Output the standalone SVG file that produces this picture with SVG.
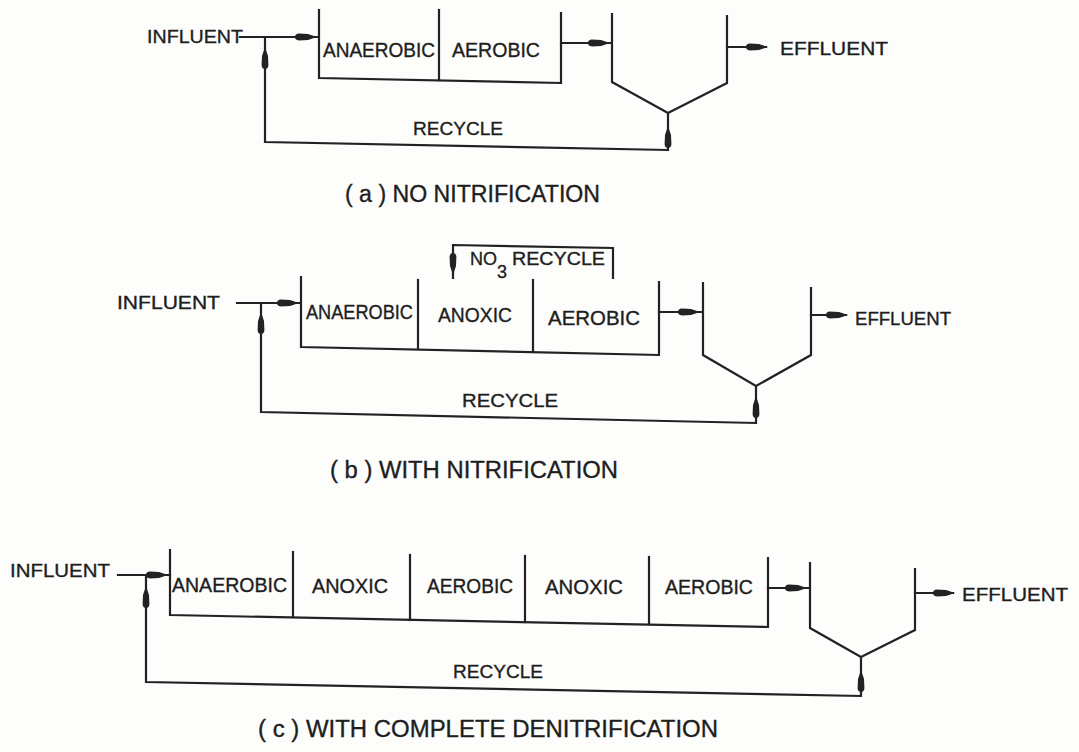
<svg xmlns="http://www.w3.org/2000/svg" xmlns:xlink="http://www.w3.org/1999/xlink" width="1079" height="752" viewBox="0 0 1079 752">
<style>
.ln{fill:none;stroke:#222;stroke-width:2.2;stroke-linejoin:miter;stroke-linecap:square}
.t{font-family:"Liberation Sans",Arial,sans-serif;fill:#1e1e1e;stroke:#1e1e1e;stroke-width:0.35}
.lbl{font-size:20px}
.io{font-size:19px}
.cap{font-size:23px}
.ah{fill:#222}
</style>
<defs>
<path id="ah" d="M0,0 L-9,-3 L-18,-3.4 Q-22,-3.2 -22,0 Q-22,3.2 -18,3.4 L-9,3 Z"/>
</defs>
<rect width="1079" height="752" fill="#fdfdfb"/>

<!-- ===== (a) ===== -->
<g id="a-influent"><text class="t io" x="147" y="43" textLength="96" lengthAdjust="spacingAndGlyphs">INFLUENT</text></g>
<g id="a-tank">
<polyline class="ln" points="319,10 319,78 561,83 561,13"/>
<line class="ln" x1="439" y1="10" x2="439" y2="80"/>
<text class="t lbl" x="323" y="57" textLength="112" lengthAdjust="spacingAndGlyphs">ANAEROBIC</text>
<text class="t lbl" x="452" y="57" textLength="88" lengthAdjust="spacingAndGlyphs">AEROBIC</text>
</g>
<g id="a-clarifier"><polyline class="ln" points="612,14 612,82 668,113 727,83 727,16"/></g>
<g id="a-effluent"><text class="t io" x="780" y="55" textLength="108" lengthAdjust="spacingAndGlyphs">EFFLUENT</text></g>
<g id="a-recycle-label"><text class="t io" x="413" y="135" textLength="90" lengthAdjust="spacingAndGlyphs">RECYCLE</text></g>
<g id="a-caption"><text class="t cap" x="345" y="202" textLength="255" lengthAdjust="spacingAndGlyphs">( a ) NO NITRIFICATION</text></g>

<!-- ===== (b) ===== -->
<g id="b-influent"><text class="t io" x="117" y="309" textLength="103" lengthAdjust="spacingAndGlyphs">INFLUENT</text></g>
<g id="b-tank">
<polyline class="ln" points="301,277 301,347 659,355 659,282"/>
<line class="ln" x1="418" y1="280" x2="418" y2="348"/>
<line class="ln" x1="533" y1="280" x2="533" y2="352"/>
<text class="t lbl" x="306" y="319" textLength="107" lengthAdjust="spacingAndGlyphs">ANAEROBIC</text>
<text class="t lbl" x="438" y="322" textLength="74" lengthAdjust="spacingAndGlyphs">ANOXIC</text>
<text class="t lbl" x="548" y="325" textLength="92" lengthAdjust="spacingAndGlyphs">AEROBIC</text>
</g>
<g id="b-no3-label">
<text class="t" font-size="18" x="470" y="265" textLength="27" lengthAdjust="spacingAndGlyphs">NO</text>
<text class="t" font-size="18" x="497" y="278">3</text>
<text class="t" font-size="18" x="512" y="265" textLength="93" lengthAdjust="spacingAndGlyphs">RECYCLE</text>
</g>
<g id="b-clarifier"><polyline class="ln" points="703,283 703,355 756,386 811,355 811,288"/></g>
<g id="b-effluent"><text class="t" font-size="18" x="855" y="325" textLength="96" lengthAdjust="spacingAndGlyphs">EFFLUENT</text></g>
<g id="b-recycle-label"><text class="t io" x="462" y="407" textLength="96" lengthAdjust="spacingAndGlyphs">RECYCLE</text></g>
<g id="b-caption"><text class="t cap" x="330" y="478" textLength="288" lengthAdjust="spacingAndGlyphs">( b ) WITH NITRIFICATION</text></g>

<!-- ===== (c) ===== -->
<g id="c-influent"><text class="t io" x="10" y="577" textLength="100" lengthAdjust="spacingAndGlyphs">INFLUENT</text></g>
<g id="c-tank">
<polyline class="ln" points="170,550 170,615 768,627 768,558"/>
<line class="ln" x1="293" y1="552" x2="293" y2="617"/>
<line class="ln" x1="410" y1="555" x2="410" y2="620"/>
<line class="ln" x1="525" y1="556" x2="525" y2="622"/>
<line class="ln" x1="649" y1="557" x2="649" y2="624"/>
<text class="t lbl" x="172" y="592" textLength="115" lengthAdjust="spacingAndGlyphs">ANAEROBIC</text>
<text class="t lbl" x="312" y="593" textLength="76" lengthAdjust="spacingAndGlyphs">ANOXIC</text>
<text class="t lbl" x="427" y="593" textLength="86" lengthAdjust="spacingAndGlyphs">AEROBIC</text>
<text class="t lbl" x="545" y="594" textLength="78" lengthAdjust="spacingAndGlyphs">ANOXIC</text>
<text class="t lbl" x="665" y="594" textLength="88" lengthAdjust="spacingAndGlyphs">AEROBIC</text>
</g>
<g id="c-clarifier"><polyline class="ln" points="810,563 810,628 861,657 915,630 915,569"/></g>
<g id="c-effluent"><text class="t io" x="962" y="601" textLength="106" lengthAdjust="spacingAndGlyphs">EFFLUENT</text></g>
<g id="c-recycle-label"><text class="t io" x="453" y="678" textLength="90" lengthAdjust="spacingAndGlyphs">RECYCLE</text></g>
<g id="c-caption"><text class="t cap" x="258" y="737" textLength="460" lengthAdjust="spacingAndGlyphs">( c ) WITH COMPLETE DENITRIFICATION</text></g>

<!-- ===== connectors ===== -->
<g id="connectors">
<!-- (a) -->
<line class="ln" x1="240" y1="37" x2="318" y2="37"/>
<use href="#ah" class="ah" transform="translate(317,37)"/>
<polyline class="ln" points="668,113 668,150 265,142 265,37"/>
<use href="#ah" class="ah" transform="translate(265,47) rotate(-90)"/>
<use href="#ah" class="ah" transform="translate(668,126) rotate(-90)"/>
<line class="ln" x1="561" y1="43" x2="611" y2="43"/>
<use href="#ah" class="ah" transform="translate(610,43)"/>
<line class="ln" x1="727" y1="47" x2="766" y2="47"/>
<use href="#ah" class="ah" transform="translate(768,47)"/>
<!-- (b) -->
<line class="ln" x1="237" y1="303" x2="300" y2="303"/>
<use href="#ah" class="ah" transform="translate(299,303)"/>
<polyline class="ln" points="756,386 756,423 261,412 261,303"/>
<use href="#ah" class="ah" transform="translate(261,312) rotate(-90)"/>
<use href="#ah" class="ah" transform="translate(756,396) rotate(-90)"/>
<polyline class="ln" points="453,278 453,245 613,248 613,278"/>
<use href="#ah" class="ah" transform="translate(453,275) rotate(90)"/>
<line class="ln" x1="659" y1="312" x2="702" y2="312"/>
<use href="#ah" class="ah" transform="translate(700,312)"/>
<line class="ln" x1="811" y1="315" x2="846" y2="315"/>
<use href="#ah" class="ah" transform="translate(848,315)"/>
<!-- (c) -->
<line class="ln" x1="118" y1="575" x2="169" y2="575"/>
<use href="#ah" class="ah" transform="translate(168,575)"/>
<polyline class="ln" points="861,657 861,696 146,682 146,575"/>
<use href="#ah" class="ah" transform="translate(146,586) rotate(-90)"/>
<use href="#ah" class="ah" transform="translate(861,670) rotate(-90)"/>
<line class="ln" x1="768" y1="588" x2="809" y2="588"/>
<use href="#ah" class="ah" transform="translate(807,588)"/>
<line class="ln" x1="915" y1="593" x2="953" y2="593"/>
<use href="#ah" class="ah" transform="translate(955,593)"/>
</g>
</svg>
